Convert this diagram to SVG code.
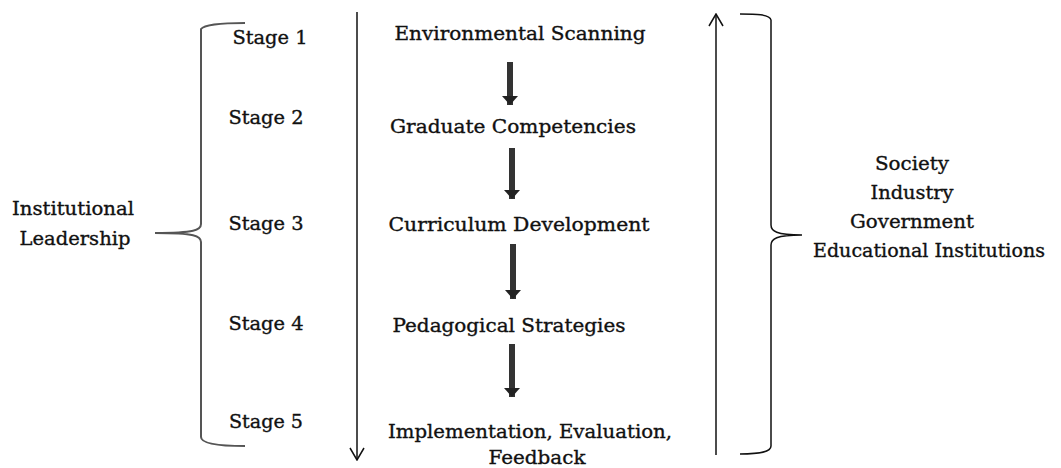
<svg xmlns="http://www.w3.org/2000/svg" width="1061" height="468" viewBox="0 0 1061 468">
<defs>
<style>
text{font-family:"DejaVu Serif","Liberation Serif",serif;font-size:19px;fill:#111;stroke:#111;stroke-width:0.35;text-anchor:middle}
.thin{stroke:#111;stroke-width:1.5;fill:none}
.brace{stroke:#555;stroke-width:2;fill:none}
.fat{stroke:#333;stroke-width:6;fill:none}
</style>
<marker id="open" viewBox="0 0 14 16" refX="13" refY="8" markerWidth="14" markerHeight="16" markerUnits="userSpaceOnUse" orient="auto">
<path d="M1,1 L13,8 L1,15" fill="none" stroke="#111" stroke-width="1.5"/>
</marker>
<marker id="fathead" viewBox="0 0 10 16" refX="9" refY="8" markerWidth="10" markerHeight="16" markerUnits="userSpaceOnUse" orient="auto">
<path d="M0,0 L9,8 L0,16 Z" fill="#222"/>
</marker>
</defs>
<rect width="1061" height="468" fill="#fff"/>
<g id="connectors">
<path class="thin" d="M357,12 L357,460" marker-end="url(#open)"/>
<path class="thin" d="M716,455 L716,14" marker-end="url(#open)"/>
<path class="fat" d="M510,62 L510,105" marker-end="url(#fathead)"/>
<path class="fat" d="M512,148 L512,199" marker-end="url(#fathead)"/>
<path class="fat" d="M513,244 L513,299" marker-end="url(#fathead)"/>
<path class="fat" d="M512,344 L512,397" marker-end="url(#fathead)"/>
</g>
<g id="left-brace">
<path class="brace" d="M245,23 C225,23 205,24 201,29 L201,224 C201,230 195,233 155,233 C195,233 201,236 201,242 L201,437 C201,443 215,446 245,446"/>
</g>
<g id="right-brace">
<path class="thin" d="M740,14 C755,14 770,14 771,20 L771,225 C771,231 776,235 802,235 C776,235 771,239 771,245 L771,446 C771,452 760,454 740,454"/>
</g>
<g id="institutional-leadership">
<text x="73" y="215" textLength="122" lengthAdjust="spacingAndGlyphs">Institutional</text>
<text x="75" y="245" textLength="111" lengthAdjust="spacingAndGlyphs">Leadership</text>
</g>
<g id="stage1"><text x="270" y="44" textLength="75" lengthAdjust="spacingAndGlyphs">Stage 1</text></g>
<g id="stage2"><text x="266" y="124" textLength="75" lengthAdjust="spacingAndGlyphs">Stage 2</text></g>
<g id="stage3"><text x="266" y="230" textLength="75" lengthAdjust="spacingAndGlyphs">Stage 3</text></g>
<g id="stage4"><text x="266" y="330" textLength="75" lengthAdjust="spacingAndGlyphs">Stage 4</text></g>
<g id="stage5"><text x="266" y="428" textLength="74" lengthAdjust="spacingAndGlyphs">Stage 5</text></g>
<g id="environmental-scanning"><text x="520" y="40" textLength="251" lengthAdjust="spacingAndGlyphs">Environmental Scanning</text></g>
<g id="graduate-competencies"><text x="513" y="133" textLength="246" lengthAdjust="spacingAndGlyphs">Graduate Competencies</text></g>
<g id="curriculum-development"><text x="519" y="231" textLength="261" lengthAdjust="spacingAndGlyphs">Curriculum Development</text></g>
<g id="pedagogical-strategies"><text x="509" y="332" textLength="233" lengthAdjust="spacingAndGlyphs">Pedagogical Strategies</text></g>
<g id="implementation">
<text x="530" y="438" textLength="284" lengthAdjust="spacingAndGlyphs">Implementation, Evaluation,</text>
<text x="537" y="464" textLength="97" lengthAdjust="spacingAndGlyphs">Feedback</text>
</g>
<g id="stakeholders">
<text x="912" y="170" textLength="74" lengthAdjust="spacingAndGlyphs">Society</text>
<text x="912" y="199" textLength="83" lengthAdjust="spacingAndGlyphs">Industry</text>
<text x="912" y="228" textLength="124" lengthAdjust="spacingAndGlyphs">Government</text>
<text x="929" y="257" textLength="232" lengthAdjust="spacingAndGlyphs">Educational Institutions</text>
</g>
</svg>
